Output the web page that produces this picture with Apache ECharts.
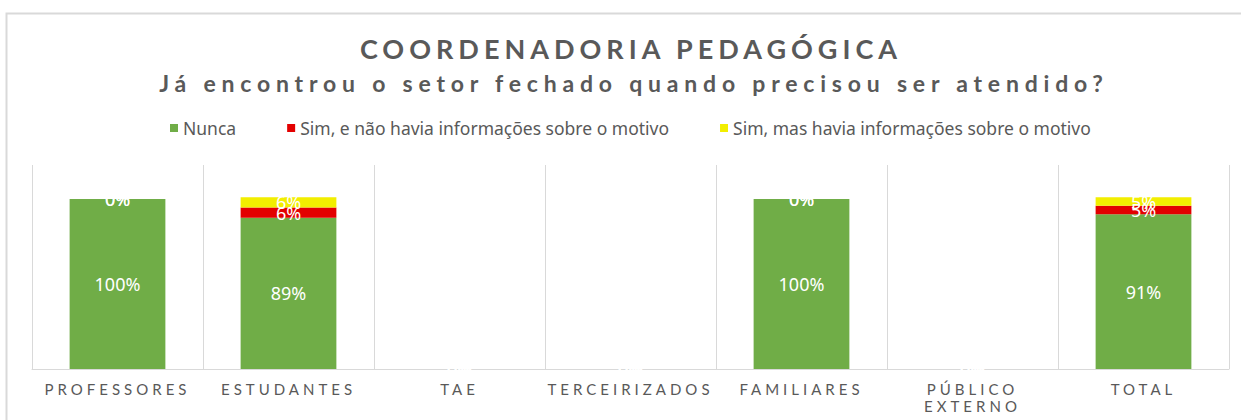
<!DOCTYPE html>
<html>
<head>
<meta charset="utf-8">
<title>Coordenadoria Pedagógica</title>
<script src="https://cdn.jsdelivr.net/npm/echarts@6/dist/echarts.min.js"></script>
<style>
  html, body { margin: 0; padding: 0; background: #fff; }
  #ec { width: 1241px; height: 420px; }
  /* espaçamento das letras (títulos e rótulos do eixo, fonte Lato) */
  #ec text[style*="Lato"] { letter-spacing: 4px; }
  #ec text[style*="Lato"][style*="27px"] { letter-spacing: 5px; }
  #ec text[style*="Lato"][style*="23px"] { letter-spacing: 5.8px; }
</style>
</head>
<body>
<div id="ec"></div>
<script>
// categorias do eixo x
var categorias = ['PROFESSORES', 'ESTUDANTES', 'TAE', 'TERCEIRIZADOS', 'FAMILIARES', 'PÚBLICO\nEXTERNO', 'TOTAL'];

// séries (fração de respostas)
var nunca = [1.00, 0.89, 0, 0, 1.00, 0, 0.91];
var simSemInfo = [0, 0.06, 0, 0, 0, 0, 0.05];
var simComInfo = [0, 0.06, 0, 0, 0, 0, 0.05];

var nomes = ['Nunca', 'Sim, e não havia informações sobre o motivo', 'Sim, mas havia informações sobre o motivo'];
var cores = ['#70AD47', '#E30000', '#F2EE00'];

var titulo = 'COORDENADORIA PEDAGÓGICA';
var subtitulo = 'Já encontrou o setor fechado quando precisou ser atendido?';

var ec = echarts.init(document.getElementById('ec'), null, { renderer: 'svg' });

function serie(nome, dados, cor) {
  return {
    name: nome,
    type: 'bar',
    stack: 'total',
    barWidth: '56%',
    itemStyle: { color: cor },
    label: {
      show: true,
      position: 'inside',
      color: '#fff',
      fontFamily: 'Noto Sans',
      fontSize: 18,
      formatter: function(p) {
        return Math.round(p.value * 100) + '%';
      }
    },
    data: dados
  };
}

var option = {
  backgroundColor: '#fff',
  animation: false,
  title: [{
    text: titulo,
    left: 626,
    textAlign: 'center',
    top: 30,
    textStyle: { fontFamily: 'Lato', fontSize: 27, fontWeight: 'bold', color: '#595959' }
  }, {
    text: subtitulo,
    left: 629,
    textAlign: 'center',
    top: 66,
    textStyle: { fontFamily: 'Lato', fontSize: 23, fontWeight: 'bold', color: '#595959' }
  }],
  legend: {
    top: 114,
    left: 165,
    itemWidth: 8,
    itemHeight: 8,
    itemGap: 51,
    icon: 'rect',
    textStyle: { fontFamily: 'Noto Sans', fontSize: 17.5, color: '#595959' },
    data: nomes
  },
  // moldura do gráfico
  graphic: [{
    type: 'rect',
    silent: true,
    shape: { x: 6.5, y: 13.5, width: 1300, height: 500 },
    style: { fill: 'none', stroke: '#d9d9d9', lineWidth: 2 }
  }],
  grid: { left: 32, right: 12, top: 165, bottom: 51, containLabel: false },
  xAxis: {
    type: 'category',
    data: categorias,
    axisLine: { lineStyle: { color: '#d9d9d9', width: 1 } },
    axisTick: { show: false },
    splitLine: { show: true, lineStyle: { color: '#d9d9d9', width: 1 } },
    axisLabel: {
      interval: 0,
      margin: 11,
      color: '#595959',
      fontFamily: 'Lato',
      fontSize: 15,
      lineHeight: 17
    }
  },
  yAxis: {
    type: 'value',
    min: 0,
    max: 1.2,
    show: false,
    splitLine: { show: false }
  },
  series: [
    serie(nomes[0], nunca, cores[0]),
    serie(nomes[1], simSemInfo, cores[1]),
    serie(nomes[2], simComInfo, cores[2])
  ]
};

ec.setOption(option);

window.addEventListener('resize', function() {
  ec.resize();
});
</script>
</body>
</html>
